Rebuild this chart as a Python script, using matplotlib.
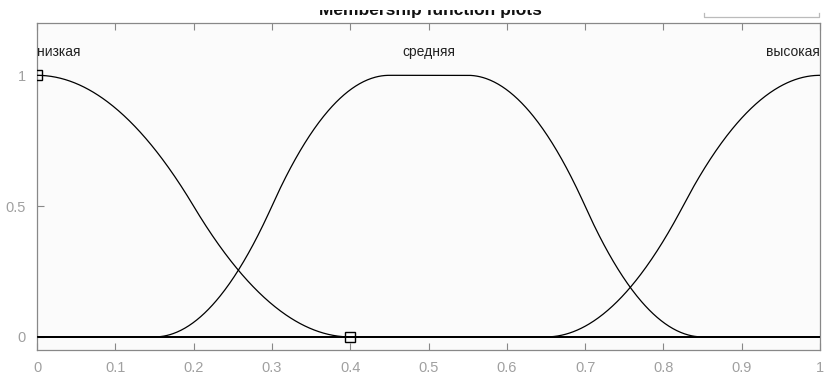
import numpy as np
import matplotlib
matplotlib.use('Agg')
import matplotlib.pyplot as plt
from matplotlib.patches import Rectangle
from matplotlib.lines import Line2D

# Функции принадлежности входной переменной (диапазон 0..1)
mf_names = ["низкая", "средняя", "высокая"]
zmf_params = [0.0, 0.4]                 # низкая
pimf_params = [0.15, 0.45, 0.55, 0.85]  # средняя
smf_params = [0.65, 1.0]                # высокая
x_ticks = [0, 0.1, 0.2, 0.3, 0.4, 0.5, 0.6, 0.7, 0.8, 0.9, 1]
x_tick_labels = ["0", "0.1", "0.2", "0.3", "0.4", "0.5", "0.6", "0.7", "0.8", "0.9", "1"]
y_ticks = [0, 0.5, 1]
y_tick_labels = ["0", "0.5", "1"]
# Точки выбранной функции (низкая)
sel_x = [0.0, 0.4]
sel_y = [1.0, 0.0]


def smf(x, a, b):
    y = np.zeros_like(x)
    m = (a + b) / 2
    y[x >= b] = 1
    i1 = (x > a) & (x <= m)
    y[i1] = 2 * ((x[i1] - a) / (b - a)) ** 2
    i2 = (x > m) & (x < b)
    y[i2] = 1 - 2 * ((x[i2] - b) / (b - a)) ** 2
    return y


def zmf(x, a, b):
    return 1 - smf(x, a, b)


def pimf(x, a, b, c, d):
    return np.minimum(smf(x, a, b), zmf(x, c, d))


x = np.linspace(0, 1, 1001)
curves = [zmf(x, *zmf_params), pimf(x, *pimf_params), smf(x, *smf_params)]

W, H = 825, 377
fig = plt.figure(figsize=(W / 100, H / 100), dpi=100)
ax = fig.add_axes([37 / W, 1 - 350 / H, 783 / W, 327 / H])
ax.set_facecolor("#fbfbfb")

ax.axhline(0, color="black", lw=1.4, zorder=2)
for y in curves:
    ax.plot(x, y, color="black", lw=0.9, zorder=3)
ax.plot(sel_x, sel_y, "s", ms=7.5, mfc="none", mec="black", mew=1.0, zorder=4)

label_y = 1.09
aligns = ["left", "center", "right"]
for name, xp, ha in zip(mf_names, [0.0, 0.5, 1.0], aligns):
    ax.text(xp, label_y, name, ha=ha, va="center", fontsize=10,
            family="Liberation Sans", color="#222222")

ax.set_xlim(0, 1)
ax.set_ylim(-0.05, 1.2)
ax.set_xticks(x_ticks)
ax.set_xticklabels(x_tick_labels)
ax.set_yticks(y_ticks)
ax.set_yticklabels(y_tick_labels)
ax.tick_params(direction="in", top=True, right=False, length=5,
               color="#888888", labelcolor="#a0a0a0", labelsize=10.5, pad=8)
for lab in ax.get_xticklabels() + ax.get_yticklabels():
    lab.set_family("Liberation Sans")
for s in ax.spines.values():
    s.set_color("#888888")
    s.set_linewidth(0.9)

# Заголовок, верх которого закрыт белой полосой
fig.text(430 / W, 1 - 15 / H, "Membership function plots", ha="center",
         va="baseline", fontsize=12.5, fontweight="bold",
         family="Liberation Sans", color="#111111")
fig.patches.append(Rectangle((0, 1 - 10 / H), 1, 10 / H, transform=fig.transFigure,
                             facecolor="white", edgecolor="none", zorder=10))
# Край элемента интерфейса справа вверху
bx = [704 / W, 704 / W, 819 / W, 819 / W]
by = [1 - 13 / H, 1 - 17 / H, 1 - 17 / H, 1 - 13 / H]
fig.lines.append(Line2D(bx, by, transform=fig.transFigure, color="#bbbbbb",
                        lw=0.9, zorder=11))

fig.savefig("out.png", dpi=100)
